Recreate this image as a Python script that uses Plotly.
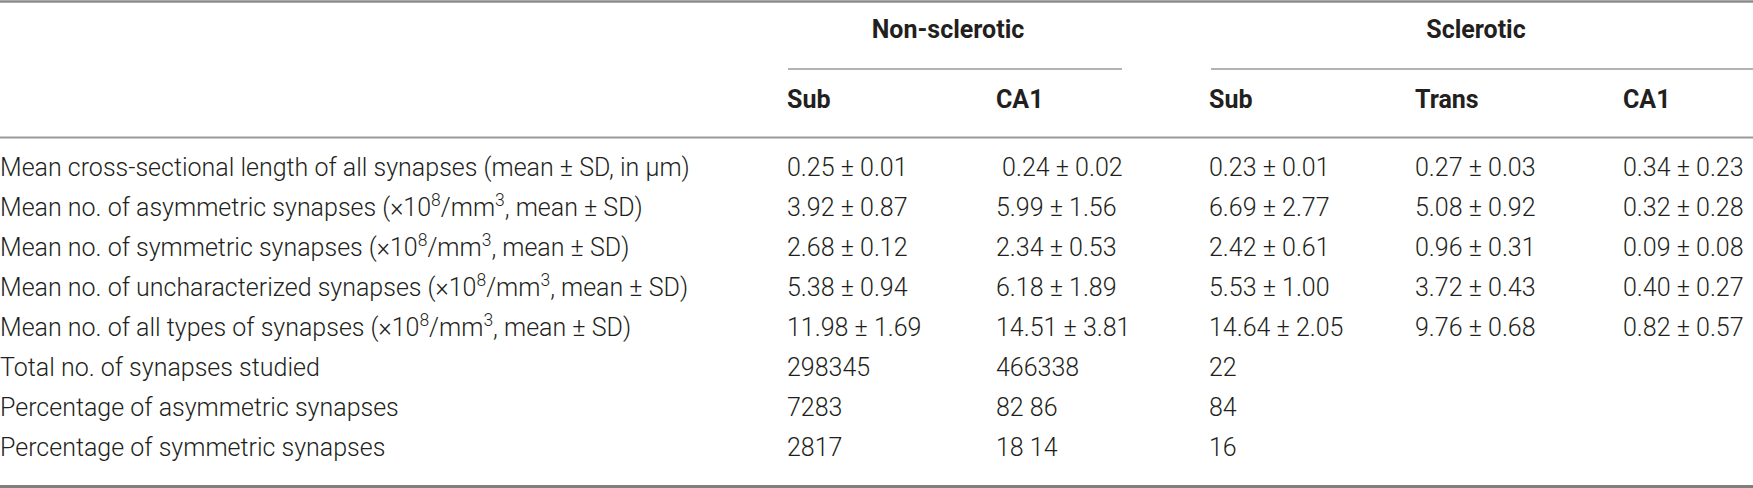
import plotly.graph_objects as go

# table content
row_labels = [
    "Mean cross-sectional length of all synapses (mean ± SD, in µm)",
    "Mean no. of asymmetric synapses (×10<sup>8</sup>/mm<sup>3</sup>, mean ± SD)",
    "Mean no. of symmetric synapses (×10<sup>8</sup>/mm<sup>3</sup>, mean ± SD)",
    "Mean no. of uncharacterized synapses (×10<sup>8</sup>/mm<sup>3</sup>, mean ± SD)",
    "Mean no. of all types of synapses (×10<sup>8</sup>/mm<sup>3</sup>, mean ± SD)",
    "Total no. of synapses studied",
    "Percentage of asymmetric synapses",
    "Percentage of symmetric synapses",
]
group_labels = ["Non-sclerotic", "Sclerotic"]
column_labels = ["Sub", "CA1", "Sub", "Trans", "CA1"]

nonscl_sub = ["0.25 ± 0.01", "3.92 ± 0.87", "2.68 ± 0.12", "5.38 ± 0.94",
              "11.98 ± 1.69", "298345", "7283", "2817"]
nonscl_ca1 = ["\u00a00.24 ± 0.02", "5.99 ± 1.56", "2.34 ± 0.53", "6.18 ± 1.89",
              "14.51 ± 3.81", "466338", "82 86", "18 14"]
scl_sub = ["0.23 ± 0.01", "6.69 ± 2.77", "2.42 ± 0.61", "5.53 ± 1.00",
           "14.64 ± 2.05", "22", "84", "16"]
scl_trans = ["0.27 ± 0.03", "5.08 ± 0.92", "0.96 ± 0.31", "3.72 ± 0.43",
             "9.76 ± 0.68", "", "", ""]
scl_ca1 = ["0.34 ± 0.23", "0.32 ± 0.28", "0.09 ± 0.08", "0.40 ± 0.27",
           "0.82 ± 0.57", "", "", ""]

columns = [nonscl_sub, nonscl_ca1, scl_sub, scl_trans, scl_ca1]

# layout (pixel space)
W, H = 1753, 488
row0, pitch = 170, 40
pad = 3  # plotly nudges text-only points sideways a little
col_x = [790, 999, 1212, 1418, 1626]
group_x = [948, 1476]
group_span = [(788, 1122), (1211, 1753)]
FONT = "Roboto, 'Liberation Sans', Arial, sans-serif"
INK = "#231f20"

row_y = [row0 + i * pitch for i in range(len(row_labels))]

fig = go.Figure()

body_font = dict(family=FONT, size=25, color=INK, weight=300)
head_font = dict(family=FONT, size=25, color=INK, weight=700)

fig.add_trace(go.Scatter(x=[0] * len(row_labels), y=row_y, text=row_labels,
                         mode="text", textposition="middle right",
                         textfont=body_font, hoverinfo="skip"))

for cx, vals in zip(col_x, columns):
    pts = [(y, v) for y, v in zip(row_y, vals) if v]
    fig.add_trace(go.Scatter(x=[cx - pad] * len(pts), y=[p[0] for p in pts],
                             text=[p[1] for p in pts],
                             mode="text", textposition="middle right",
                             textfont=body_font, hoverinfo="skip"))

fig.add_trace(go.Scatter(x=[c - pad for c in col_x], y=[102] * len(column_labels),
                         text=column_labels, mode="text", textposition="middle right",
                         textfont=head_font, hoverinfo="skip"))
fig.add_trace(go.Scatter(x=group_x, y=[32] * len(group_labels), text=group_labels,
                         mode="text", textposition="middle center",
                         textfont=head_font, hoverinfo="skip"))

# rules
shapes = [
    dict(type="line", x0=0, x1=W, y0=1.5, y1=1.5, line=dict(color="#8c8c8c", width=2.5)),
    dict(type="line", x0=0, x1=W, y0=137.5, y1=137.5, line=dict(color="#9a9a9a", width=2)),
    dict(type="line", x0=0, x1=W, y0=486.5, y1=486.5, line=dict(color="#7f7f7f", width=3)),
]
for x0, x1 in group_span:
    shapes.append(dict(type="line", x0=x0, x1=x1, y0=69, y1=69,
                       line=dict(color="#9a9a9a", width=1.5)))
for s in shapes:
    s.update(xref="x", yref="y", layer="above")

fig.update_layout(
    width=W, height=H,
    margin=dict(l=0, r=0, t=0, b=0),
    paper_bgcolor="white", plot_bgcolor="white",
    showlegend=False,
    shapes=shapes,
    xaxis=dict(range=[0, W], visible=False, fixedrange=True),
    yaxis=dict(range=[H, 0], visible=False, fixedrange=True),
)

fig.write_html("out.html", config=dict(displayModeBar=False),
               post_script="document.body.style.margin='0';document.body.style.overflow='hidden';")
